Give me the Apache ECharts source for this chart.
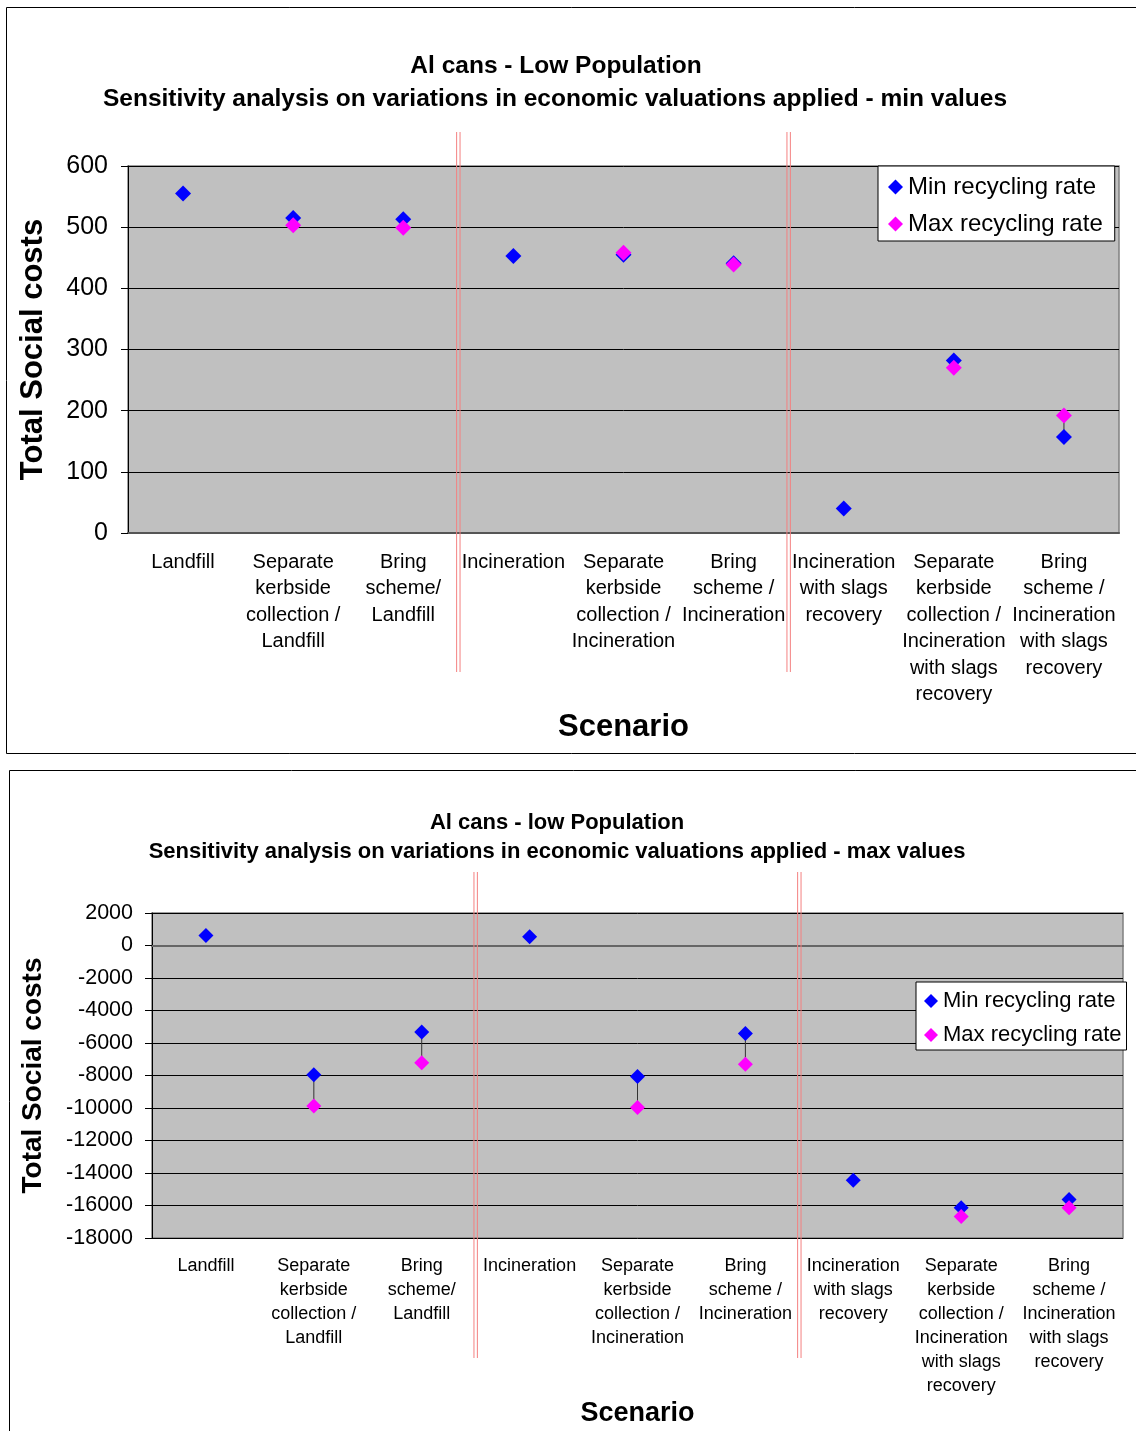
<!DOCTYPE html>
<html>
<head>
<meta charset="utf-8">
<title>Al cans - Low Population</title>
<script src="https://cdn.jsdelivr.net/npm/echarts@6/dist/echarts.min.js"></script>
<style>
  html, body { margin: 0; padding: 0; background: #fff; overflow: hidden; }
  #chart { width: 1136px; height: 1431px; }
</style>
</head>
<body>
<div id="chart"></div>
<script>
// scenarios (line breaks as in the original labels)
const categories = [
  "Landfill",
  "Separate\nkerbside\ncollection /\nLandfill",
  "Bring\nscheme/\nLandfill",
  "Incineration",
  "Separate\nkerbside\ncollection /\nIncineration",
  "Bring\nscheme /\nIncineration",
  "Incineration\nwith slags\nrecovery",
  "Separate\nkerbside\ncollection /\nIncineration\nwith slags\nrecovery",
  "Bring\nscheme /\nIncineration\nwith slags\nrecovery"
];

// chart 1 - min values
const minRateMinVal = [555, 515, 513, 453, 455, 441, 40, 282, 157];
const maxRateMinVal = [null, 503, 499, null, 458, 439, null, 270, 192];
const ticksMinVal = { min: 0, max: 600, interval: 100 };

// chart 2 - max values
const minRateMaxVal = [620, -7960, -5330, 540, -8060, -5415, -14440, -16140, -15630];
const maxRateMaxVal = [null, -9870, -7220, null, -9970, -7300, null, -16680, -16140];
const ticksMaxVal = { min: -18000, max: 2000, interval: 2000 };

const seriesNames = ["Min recycling rate", "Max recycling rate"];

const FONT = "'Liberation Sans', Arial, sans-serif";

// pairs min/max joined by a thin line (high-low lines)
function hiLow(minVals, maxVals) {
  return categories
    .map((c, i) => [i, minVals[i], maxVals[i]])
    .filter(d => d[1] != null && d[2] != null);
}

function hiLowSeries(data, axisIdx, yIdx) {
  return {
    type: "custom",
    xAxisIndex: axisIdx,
    yAxisIndex: yIdx,
    data: data,
    encode: { x: 0, y: [1, 2] },
    z: 1,
    silent: true,
    renderItem: function (params, api) {
      const p1 = api.coord([api.value(0), api.value(1)]);
      const p2 = api.coord([api.value(0), api.value(2)]);
      return {
        type: "line",
        shape: { x1: p1[0], y1: p1[1], x2: p2[0], y2: p2[1] },
        style: { stroke: "#333", lineWidth: 1 }
      };
    }
  };
}

function scatter(name, vals, color, size, axisIdx, yIdx) {
  return {
    name: name,
    type: "scatter",
    xAxisIndex: axisIdx,
    yAxisIndex: yIdx,
    symbol: "diamond",
    symbolSize: size,
    itemStyle: { color: color, opacity: 1 },
    z: 3,
    data: vals
  };
}

const blackLine = { lineStyle: { color: "#000", width: 1 } };

const option = {
  animation: false,
  textStyle: { fontFamily: FONT, color: "#000" },
  grid: [
    { left: 128, top: 166, width: 991, height: 367, show: true, backgroundColor: "#C0C0C0", borderColor: "#808080", borderWidth: 1.5 },
    { left: 152, top: 913, width: 971, height: 325, show: true, backgroundColor: "#C0C0C0", borderColor: "#808080", borderWidth: 1.5 }
  ],
  xAxis: [
    {
      gridIndex: 0,
      type: "category",
      data: categories,
      axisLine: { lineStyle: { color: "#555", width: 2 } },
      axisTick: { length: 6, lineStyle: { color: "#000" } },
      axisLabel: { interval: 0, fontSize: 20, lineHeight: 26.5, margin: 16, color: "#000", fontFamily: FONT },
      name: "Scenario",
      nameLocation: "middle",
      nameGap: 179,
      nameTextStyle: { fontSize: 31, fontWeight: "bold", color: "#000", fontFamily: FONT }
    },
    {
      // axis line at zero with ticks
      gridIndex: 1,
      type: "category",
      data: categories,
      axisLine: { onZero: true, lineStyle: { color: "#666", width: 2 } },
      axisTick: { length: 5, lineStyle: { color: "#000" } },
      axisLabel: { show: false }
    },
    {
      // labels at the bottom of the plot
      gridIndex: 1,
      type: "category",
      data: categories,
      position: "bottom",
      axisLine: { show: false, onZero: false },
      axisTick: { show: false },
      axisLabel: { interval: 0, fontSize: 18, lineHeight: 24, margin: 16, color: "#000", fontFamily: FONT },
      name: "Scenario",
      nameLocation: "middle",
      nameGap: 162,
      nameTextStyle: { fontSize: 27, fontWeight: "bold", color: "#000", fontFamily: FONT }
    }
  ],
  yAxis: [
    {
      gridIndex: 0,
      type: "value",
      min: ticksMinVal.min,
      max: ticksMinVal.max,
      interval: ticksMinVal.interval,
      axisLine: { show: true, lineStyle: { color: "#000", width: 1 } },
      axisTick: { show: true, length: 7, lineStyle: { color: "#000" } },
      splitLine: blackLine,
      axisLabel: { fontSize: 25, margin: 20, color: "#000", fontFamily: FONT },
      name: "Total Social costs",
      nameLocation: "middle",
      nameRotate: 90,
      nameGap: 79,
      nameTextStyle: { fontSize: 31, fontWeight: "bold", color: "#000", fontFamily: FONT }
    },
    {
      gridIndex: 1,
      type: "value",
      min: ticksMaxVal.min,
      max: ticksMaxVal.max,
      interval: ticksMaxVal.interval,
      axisLine: { show: true, lineStyle: { color: "#000", width: 1 } },
      axisTick: { show: true, length: 7, lineStyle: { color: "#000" } },
      splitLine: blackLine,
      axisLabel: { fontSize: 21.5, margin: 19, color: "#000", fontFamily: FONT, formatter: v => String(v) },
      name: "Total Social costs",
      nameLocation: "middle",
      nameRotate: 90,
      nameGap: 105,
      nameTextStyle: { fontSize: 28, fontWeight: "bold", color: "#000", fontFamily: FONT }
    }
  ],
  legend: [
    {
      left: 878, top: 166, orient: "vertical",
      itemWidth: 15, itemHeight: 15, itemGap: 13,
      padding: [9, 12, 5, 10],
      backgroundColor: "#fff", borderColor: "#000", borderWidth: 1,
      textStyle: { fontSize: 24, lineHeight: 24, color: "#000", fontFamily: FONT },
      data: seriesNames.map(n => ({ name: n, icon: "diamond" }))
    },
    {
      left: 916, top: 982, orient: "vertical",
      itemWidth: 14, itemHeight: 14, itemGap: 12,
      padding: [8, 5, 4, 8],
      backgroundColor: "#fff", borderColor: "#000", borderWidth: 1,
      textStyle: { fontSize: 22, lineHeight: 22, color: "#000", fontFamily: FONT },
      data: seriesNames.map(n => ({ name: n, icon: "diamond" }))
    }
  ],
  series: [
    hiLowSeries(hiLow(minRateMinVal, maxRateMinVal), 0, 0),
    scatter(seriesNames[0], minRateMinVal, "#0000FF", 16, 0, 0),
    scatter(seriesNames[1], maxRateMinVal, "#FF00FF", 16, 0, 0),
    hiLowSeries(hiLow(minRateMaxVal, maxRateMaxVal), 1, 1),
    scatter(seriesNames[0], minRateMaxVal, "#0000FF", 15, 1, 1),
    scatter(seriesNames[1], maxRateMaxVal, "#FF00FF", 15, 1, 1)
  ]
};

const myChart = echarts.init(document.getElementById("chart"));
myChart.setOption(option);

// double red separator lines between scenario groups
function boundaryX(axisIdx, i) {
  const a = myChart.convertToPixel({ xAxisIndex: axisIdx }, i - 1);
  const b = myChart.convertToPixel({ xAxisIndex: axisIdx }, i);
  return (a + b) / 2;
}
function redPair(x, y1, y2) {
  return [-1.7, 1.7].map(dx => ({
    type: "line",
    z: 100,
    silent: true,
    shape: { x1: x + dx, y1: y1, x2: x + dx, y2: y2 },
    style: { stroke: "#F48080", lineWidth: 1 }
  }));
}
function titleText(text, x, y, size) {
  return {
    type: "text", x: x, y: y, z: 100,
    style: { text: text, font: "bold " + size + "px " + FONT, fill: "#000", textAlign: "center", textVerticalAlign: "middle" }
  };
}

const graphic = [
  { type: "rect", z: 0, shape: { x: 6.5, y: 7.5, width: 1140, height: 746 }, style: { fill: null, stroke: "#000", lineWidth: 1 } },
  { type: "rect", z: 0, shape: { x: 9.5, y: 770.5, width: 1140, height: 700 }, style: { fill: null, stroke: "#000", lineWidth: 1 } },
  titleText("Al cans - Low Population", 556, 66, 24.5),
  titleText("Sensitivity analysis on variations in economic valuations applied - min values", 555, 99, 24.5),
  titleText("Al cans - low Population", 557, 823, 22),
  titleText("Sensitivity analysis on variations in economic valuations applied - max values", 557, 852, 22)
]
  .concat(redPair(boundaryX(0, 3), 132, 672))
  .concat(redPair(boundaryX(0, 6), 132, 672))
  .concat(redPair(boundaryX(1, 3), 872, 1358))
  .concat(redPair(boundaryX(1, 6), 872, 1358));

myChart.setOption({ graphic: graphic });
</script>
</body>
</html>
